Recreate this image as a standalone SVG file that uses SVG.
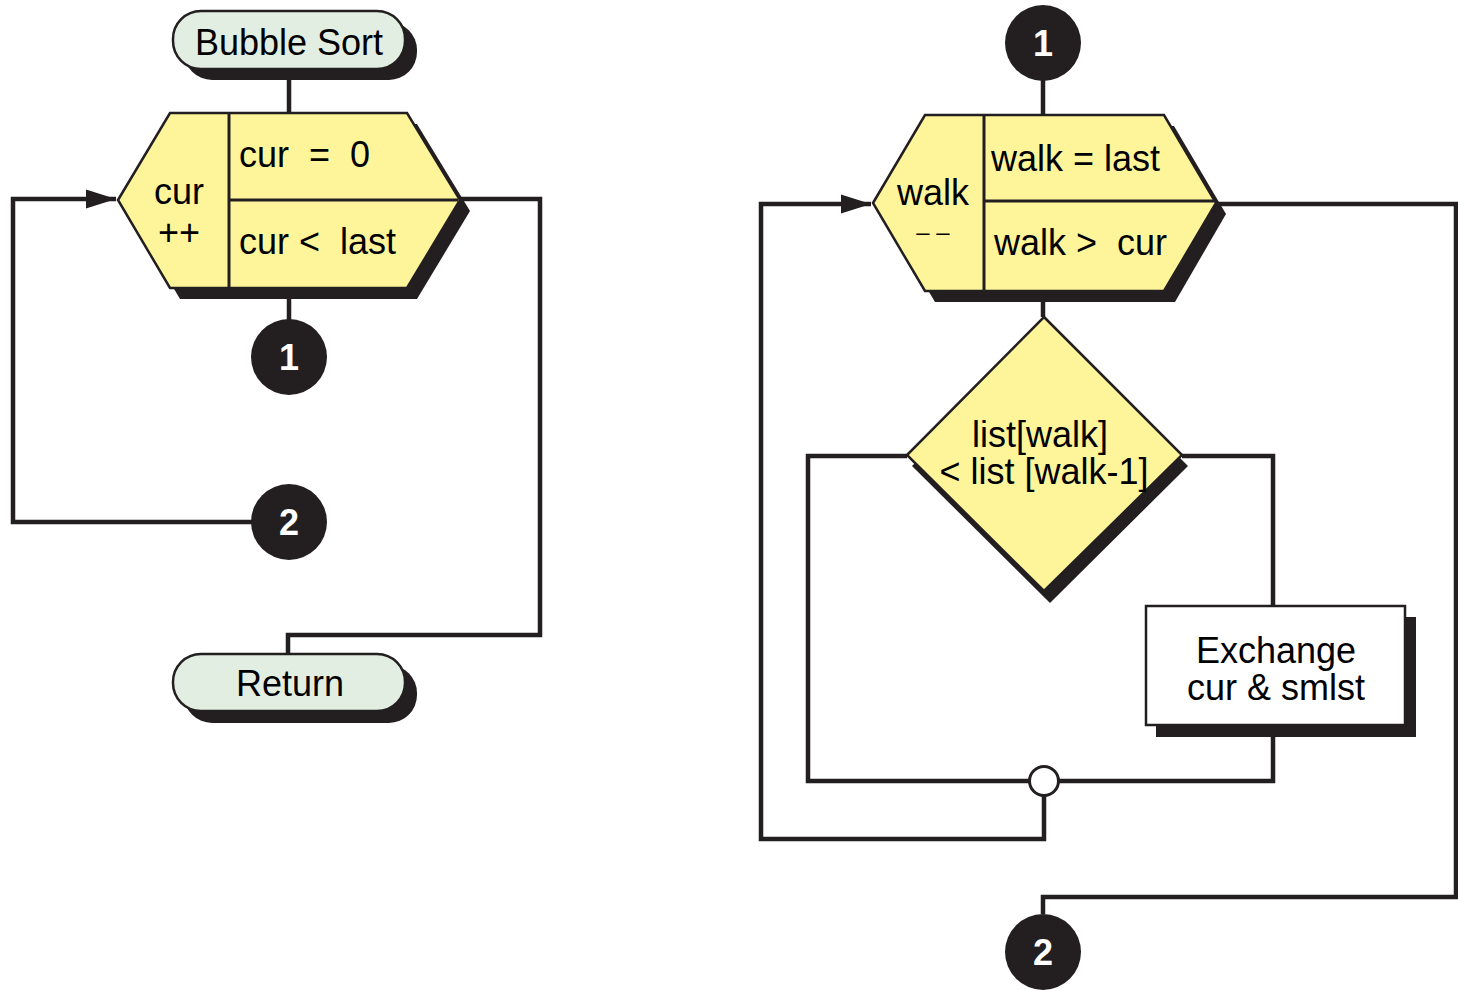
<svg xmlns="http://www.w3.org/2000/svg" width="1458" height="990" viewBox="0 0 1458 990">
  <style>
    .shadow { fill: #231f20; }
    .term { fill: #e3eee2; stroke: #231f20; stroke-width: 2.5; }
    .proc { fill: #fef59b; stroke: #231f20; stroke-width: 2.5; }
    .box { fill: #ffffff; stroke: #231f20; stroke-width: 2.5; }
    .div { stroke: #231f20; stroke-width: 3; fill: none; }
    .wire { stroke: #231f20; stroke-width: 4.5; fill: none; stroke-linejoin: miter; }
    .txt { font-family: "Liberation Sans", Arial, sans-serif; font-size: 36px; fill: #000; }
    .mid { text-anchor: middle; }
    .conn { fill: #231f20; }
    .num { font-family: "Liberation Sans", Arial, sans-serif; font-size: 36px; font-weight: bold; fill: #fff; text-anchor: middle; }
    .junc { fill: #fff; stroke: #231f20; stroke-width: 3; }
  </style>
  <defs>
    <marker id="arrow" markerUnits="userSpaceOnUse" markerWidth="32" markerHeight="22" refX="30" refY="11" orient="auto">
      <path d="M0,1.5 L30,11 L0,20.5 Z" fill="#231f20"/>
    </marker>
  </defs>

  <rect width="1458" height="990" fill="#ffffff"/>

  <!-- connectors -->
  <g id="connectors">
    <!-- left chart -->
    <line class="wire" x1="289" y1="69" x2="289" y2="113"/>
    <line class="wire" x1="289" y1="288" x2="289" y2="320"/>
    <polyline class="wire" points="252,522 13,522 13,199 116,199" marker-end="url(#arrow)"/>
    <polyline class="wire" points="460,199 540,199 540,635 288,635 288,654"/>
    <!-- right chart -->
    <line class="wire" x1="1043" y1="80" x2="1043" y2="115"/>
    <line class="wire" x1="1043" y1="291" x2="1043" y2="317"/>
    <polyline class="wire" points="907,456 808,456 808,781 1030,781"/>
    <polyline class="wire" points="1182,456 1273,456 1273,606"/>
    <polyline class="wire" points="1273,725 1273,781 1058,781"/>
    <polyline class="wire" points="1044,795 1044,839 761,839 761,204 871,204" marker-end="url(#arrow)"/>
    <polyline class="wire" points="1216,204 1456,204 1456,897 1043,897 1043,914"/>
  </g>

  <!-- Bubble Sort terminal -->
  <g id="start">
    <rect class="shadow" x="184" y="22" width="233" height="58" rx="28"/>
    <rect class="term" x="173" y="11" width="232" height="58" rx="28"/>
    <text class="txt mid" x="289" y="55">Bubble Sort</text>
  </g>

  <!-- outer loop: cur -->
  <g id="loop-cur">
    <polygon class="shadow" points="128,211 180,124 417,124 470,211 417,299 180,299"/>
    <polygon class="proc" points="118,200 170,113 407,113 460,200 407,288 170,288"/>
    <line class="div" x1="229" y1="113" x2="229" y2="288"/>
    <line class="div" x1="229" y1="200" x2="458" y2="200"/>
    <text class="txt" x="239" y="167" xml:space="preserve">cur  =  0</text>
    <text class="txt" x="239" y="254" xml:space="preserve">cur &lt;  last</text>
    <text class="txt mid" x="179" y="204">cur</text>
    <text class="txt mid" x="179" y="245">++</text>
  </g>

  <!-- left off-page connectors -->
  <g id="conn-1-left">
    <circle class="conn" cx="289" cy="357" r="38"/>
    <text class="num" x="289" y="370">1</text>
  </g>
  <g id="conn-2-left">
    <circle class="conn" cx="289" cy="522" r="38"/>
    <text class="num" x="289" y="535">2</text>
  </g>

  <!-- Return terminal -->
  <g id="return">
    <rect class="shadow" x="184" y="665" width="233" height="58" rx="28"/>
    <rect class="term" x="173" y="654" width="232" height="57" rx="28"/>
    <text class="txt mid" x="290" y="696">Return</text>
  </g>

  <!-- right off-page connector 1 -->
  <g id="conn-1-right">
    <circle class="conn" cx="1043" cy="43" r="38"/>
    <text class="num" x="1043" y="56">1</text>
  </g>

  <!-- inner loop: walk -->
  <g id="loop-walk">
    <polygon class="shadow" points="883,214 935,126 1174,126 1226,214 1175,302 935,302"/>
    <polygon class="proc" points="873,203 925,115 1164,115 1216,203 1164,291 925,291"/>
    <line class="div" x1="984" y1="115" x2="984" y2="291"/>
    <line class="div" x1="984" y1="201" x2="1214" y2="201"/>
    <text class="txt" x="991" y="171">walk = last</text>
    <text class="txt" x="994" y="255" xml:space="preserve">walk &gt;  cur</text>
    <text class="txt mid" x="933" y="205">walk</text>
    <text class="txt mid" x="933" y="240" style="font-size:24px">– –</text>
  </g>

  <!-- decision -->
  <g id="compare">
    <polygon class="shadow" points="1050,328 1188,466 1050,603 912,466"/>
    <polygon class="proc" points="1044,317 1182,455 1044,591 907,455"/>
    <text class="txt mid" x="1040" y="447">list[walk]</text>
    <text class="txt mid" x="1044" y="484">&lt; list [walk-1]</text>
  </g>

  <!-- exchange -->
  <g id="exchange">
    <rect class="shadow" x="1156" y="617" width="260" height="120"/>
    <rect class="box" x="1146" y="606" width="259" height="119"/>
    <text class="txt mid" x="1276" y="663">Exchange</text>
    <text class="txt mid" x="1276" y="700">cur &amp; smlst</text>
  </g>

  <!-- junction -->
  <g id="join">
    <circle class="junc" cx="1044" cy="781" r="14.5"/>
  </g>

  <!-- right off-page connector 2 -->
  <g id="conn-2-right">
    <circle class="conn" cx="1043" cy="952" r="38"/>
    <text class="num" x="1043" y="965">2</text>
  </g>
</svg>
